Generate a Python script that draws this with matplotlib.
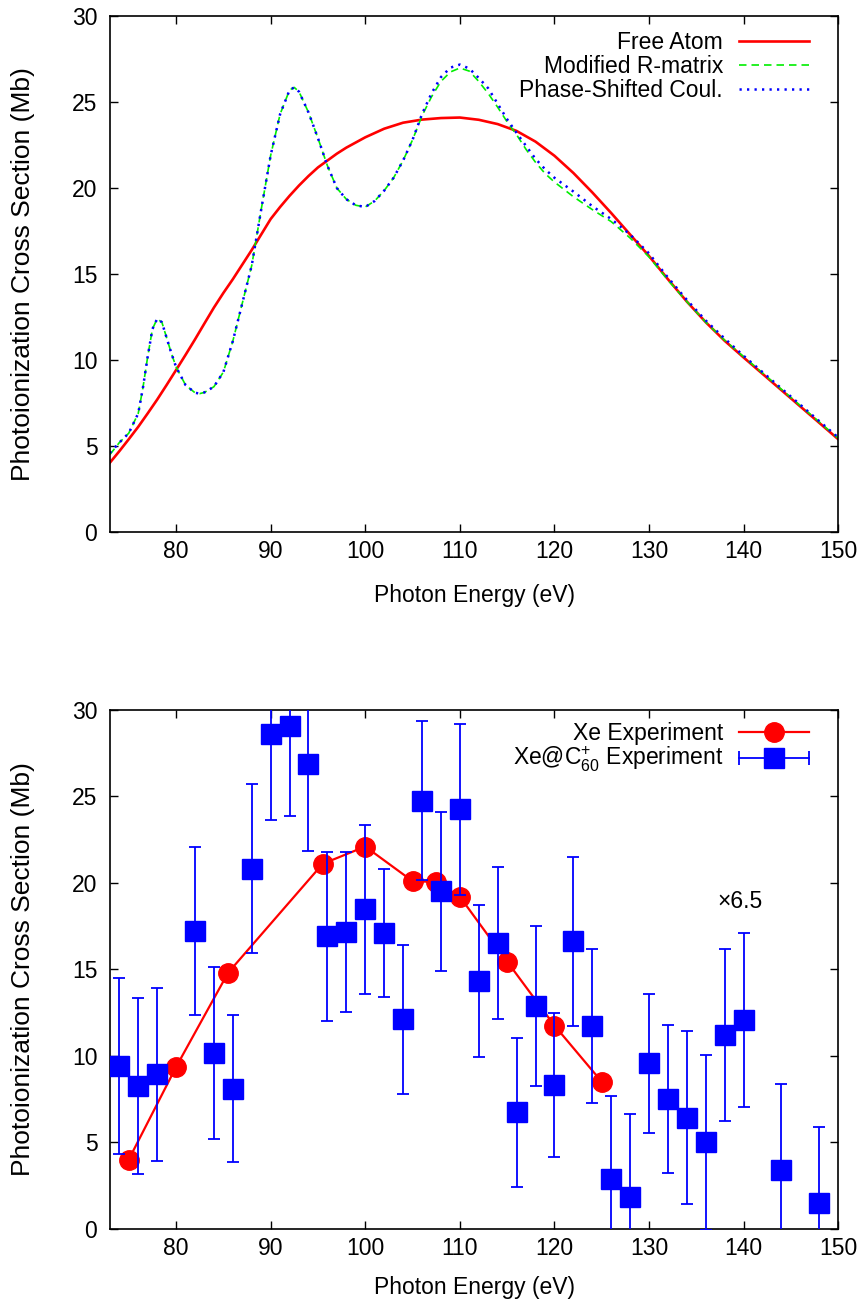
import numpy as np
import matplotlib
matplotlib.use("Agg")
import matplotlib.pyplot as plt
from matplotlib.lines import Line2D
from matplotlib.legend_handler import HandlerBase

plt.rcParams['font.family'] = ['Liberation Sans', 'DejaVu Sans']
plt.rcParams['mathtext.fontset'] = 'custom'
plt.rcParams['mathtext.rm'] = 'Liberation Sans'
plt.rcParams['mathtext.it'] = 'Liberation Sans:italic'

FS = 16.5      # ticks, legend, x label
FS_Y = 19      # y label

# --- top panel: theory curves ---
x_free = [73, 74, 75, 76, 77, 78, 79, 80, 81, 82, 83, 84, 85, 86, 87, 88, 89, 90,
          91, 92, 93, 94, 95, 96, 97, 98, 99, 100, 102, 104, 106, 108, 110, 112,
          114, 116, 118, 120, 122, 124, 126, 128, 130, 132, 134, 136, 138, 140,
          142, 144, 146, 148, 150]
y_free = [4.03, 4.7, 5.4, 6.12, 6.9, 7.7, 8.55, 9.42, 10.3, 11.2, 12.13, 13.05,
          13.9, 14.7, 15.55, 16.4, 17.3, 18.2, 18.9, 19.55, 20.15, 20.7, 21.2,
          21.6, 22.0, 22.35, 22.65, 22.95, 23.45, 23.8, 23.98, 24.07, 24.1, 23.97,
          23.72, 23.32, 22.7, 21.88, 20.88, 19.75, 18.55, 17.3, 16.05, 14.7, 13.4,
          12.2, 11.12, 10.15, 9.2, 8.25, 7.3, 6.35, 5.4]

x_mod = [73, 74, 75, 76, 76.5, 77, 77.5, 78, 78.5, 79, 79.5, 80, 81, 82, 82.5, 83,
         84, 85, 86, 87, 88, 89, 90, 91, 92, 92.5, 93, 94, 95, 96, 97, 98, 99, 100,
         101, 102, 103, 104, 105, 106, 107, 108, 109, 110, 111, 112, 113, 114, 115,
         116, 117, 118, 119, 120, 122, 124, 126, 128, 130, 132, 134, 136, 138, 140,
         142, 144, 146, 148, 150]
y_rmatrix = [4.5, 5.2, 5.75, 6.9, 8.4, 10.2, 11.8, 12.4, 12.2, 11.3, 10.4, 9.6,
             8.55, 8.1, 8.05, 8.12, 8.45, 9.3, 11.1, 13.3, 15.5, 18.75, 21.9, 24.3,
             25.7, 25.85, 25.6, 24.4, 22.9, 21.3, 20.0, 19.35, 19.0, 18.9, 19.25,
             19.85, 20.6, 21.6, 22.8, 24.2, 25.3, 26.2, 26.75, 26.98, 26.8, 26.2,
             25.5, 24.7, 23.85, 23.1, 22.25, 21.5, 20.85, 20.35, 19.5, 18.75, 18.05,
             17.1, 16.0, 14.65, 13.4, 12.2, 11.15, 10.2, 9.25, 8.3, 7.35, 6.4, 5.45]
y_coul = [4.6, 5.2, 5.75, 6.9, 8.4, 10.2, 11.8, 12.4, 12.2, 11.3, 10.4, 9.6,
          8.55, 8.1, 8.05, 8.12, 8.45, 9.3, 11.1, 13.3, 15.5, 18.75, 21.9, 24.3,
          25.7, 25.85, 25.6, 24.4, 22.9, 21.3, 20.0, 19.35, 19.0, 18.9, 19.25,
          19.85, 20.6, 21.6, 22.8, 24.3, 25.5, 26.45, 27.0, 27.18, 26.95, 26.4,
          25.8, 24.9, 24.0, 23.2, 22.45, 21.7, 21.1, 20.6, 19.8, 18.95, 18.2,
          17.3, 16.2, 14.8, 13.5, 12.3, 11.25, 10.25, 9.3, 8.35, 7.4, 6.45, 5.5]

# --- bottom panel: experiment ---
x_xe = [75, 80, 85.5, 95.5, 100, 105, 107.5, 110, 115, 120, 125]
y_xe = [4.0, 9.35, 14.8, 21.1, 22.1, 20.1, 20.05, 19.2, 15.45, 11.75, 8.5]

x_c60 = [74, 76, 78, 82, 84, 86, 88, 90, 92, 94, 96, 98, 100, 102, 104, 106, 108,
         110, 112, 114, 116, 118, 120, 122, 124, 126, 128, 130, 132, 134, 136, 138,
         140, 144, 148]
y_c60 = [9.4, 8.26, 8.92, 17.2, 10.16, 8.1, 20.82, 28.62, 29.06, 26.9, 16.9, 17.16,
         18.46, 17.1, 12.1, 24.76, 19.52, 24.26, 14.32, 16.5, 6.72, 12.86, 8.32,
         16.62, 11.72, 2.9, 1.86, 9.56, 7.5, 6.42, 5.0, 11.2, 12.06, 3.4, 1.46]
err_c60 = [5.1, 5.1, 5.0, 4.87, 4.96, 4.27, 4.9, 5.0, 5.2, 5.06, 4.9, 4.6, 4.9, 3.7,
           4.33, 4.6, 4.6, 4.94, 4.4, 4.4, 4.33, 4.63, 4.17, 4.87, 4.45, 4.76, 4.76,
           4.0, 4.27, 5.0, 5.06, 5.0, 5.05, 4.96, 4.44]

x_ticks = [80, 90, 100, 110, 120, 130, 140, 150]
y_ticks = [0, 5, 10, 15, 20, 25, 30]


class HandlerXErr(HandlerBase):
    # gnuplot style errorbar key: horizontal bar with end caps and a square
    def create_artists(self, legend, orig_handle, xdescent, ydescent, width,
                       height, fontsize, trans):
        y = height / 2 - ydescent
        x0, x1 = -xdescent, width - xdescent
        bar = Line2D([x0, x1], [y, y], color='blue', lw=1.3)
        caps = Line2D([x0, x1], [y, y], ls='none', marker='|', ms=10,
                      mew=1.3, color='blue')
        sq = Line2D([(x0 + x1) / 2], [y], ls='none', marker='s', ms=15,
                    color='blue')
        for a in (bar, caps, sq):
            a.set_transform(trans)
        return [bar, caps, sq]


def style_axes(ax, xlab_y):
    ax.set_xlim(73, 150)
    ax.set_ylim(0, 30)
    ax.set_xticks(x_ticks)
    ax.set_yticks(y_ticks)
    ax.tick_params(direction='in', length=6, width=1, top=True, right=True,
                   labelsize=FS)
    ax.tick_params(axis='x', pad=6)
    ax.tick_params(axis='y', pad=9)
    for s in ax.spines.values():
        s.set_linewidth(1.2)
    ax.set_xlabel('Photon Energy (eV)', fontsize=FS)
    ax.set_ylabel('Photoionization Cross Section (Mb)', fontsize=FS_Y)
    ax.xaxis.set_label_coords(0.5, xlab_y)
    ax.yaxis.set_label_coords(-0.103, 0.5)


fig = plt.figure(figsize=(8.65, 13.06), dpi=100)
ax1 = fig.add_axes([0.127, 0.5926, 0.842, 0.3951])
ax2 = fig.add_axes([0.127, 0.0592, 0.842, 0.3972])

ax1.plot(x_free, y_free, color='red', lw=1.9, label='Free Atom')
ax1.plot(x_mod, y_rmatrix, color='#00ee00', lw=1.2, dashes=(4.5, 3),
         label='Modified R-matrix')
ax1.plot(x_mod, y_coul, color='blue', lw=1.8, dashes=(0.9, 2.1),
         label='Phase-Shifted Coul.')
style_axes(ax1, -0.1)
ax1.legend(loc='upper right', frameon=False, markerfirst=False,
           handlelength=3.05, handletextpad=0.7, labelspacing=0.05,
           borderaxespad=0, borderpad=0, bbox_to_anchor=(0.96, 0.971),
           fontsize=FS)

ax2.plot(x_xe, y_xe, color='red', lw=1.6, marker='o', ms=14, zorder=2)
ax2.errorbar(x_c60, y_c60, yerr=err_c60, fmt='s', color='blue', ms=15,
             elinewidth=1.3, capsize=4, capthick=1.3, zorder=3)
ax2.text(139.6, 18.9, '\u00d76.5', ha='center', va='center', fontsize=FS)
style_axes(ax2, -0.092)

h_xe = Line2D([], [], color='red', lw=1.6, marker='o', ms=14)
h_c60 = Line2D([], [], color='blue')
ax2.legend([h_xe, h_c60], ['Xe Experiment', r'Xe@C$_{60}^{+}$ Experiment'],
           handler_map={h_c60: HandlerXErr()},
           loc='upper right', frameon=False, markerfirst=False,
           handlelength=3.05, handletextpad=0.7, labelspacing=0.0,
           borderaxespad=0, borderpad=0, bbox_to_anchor=(0.96, 0.977),
           fontsize=FS)

fig.savefig('out.png', dpi=100)
